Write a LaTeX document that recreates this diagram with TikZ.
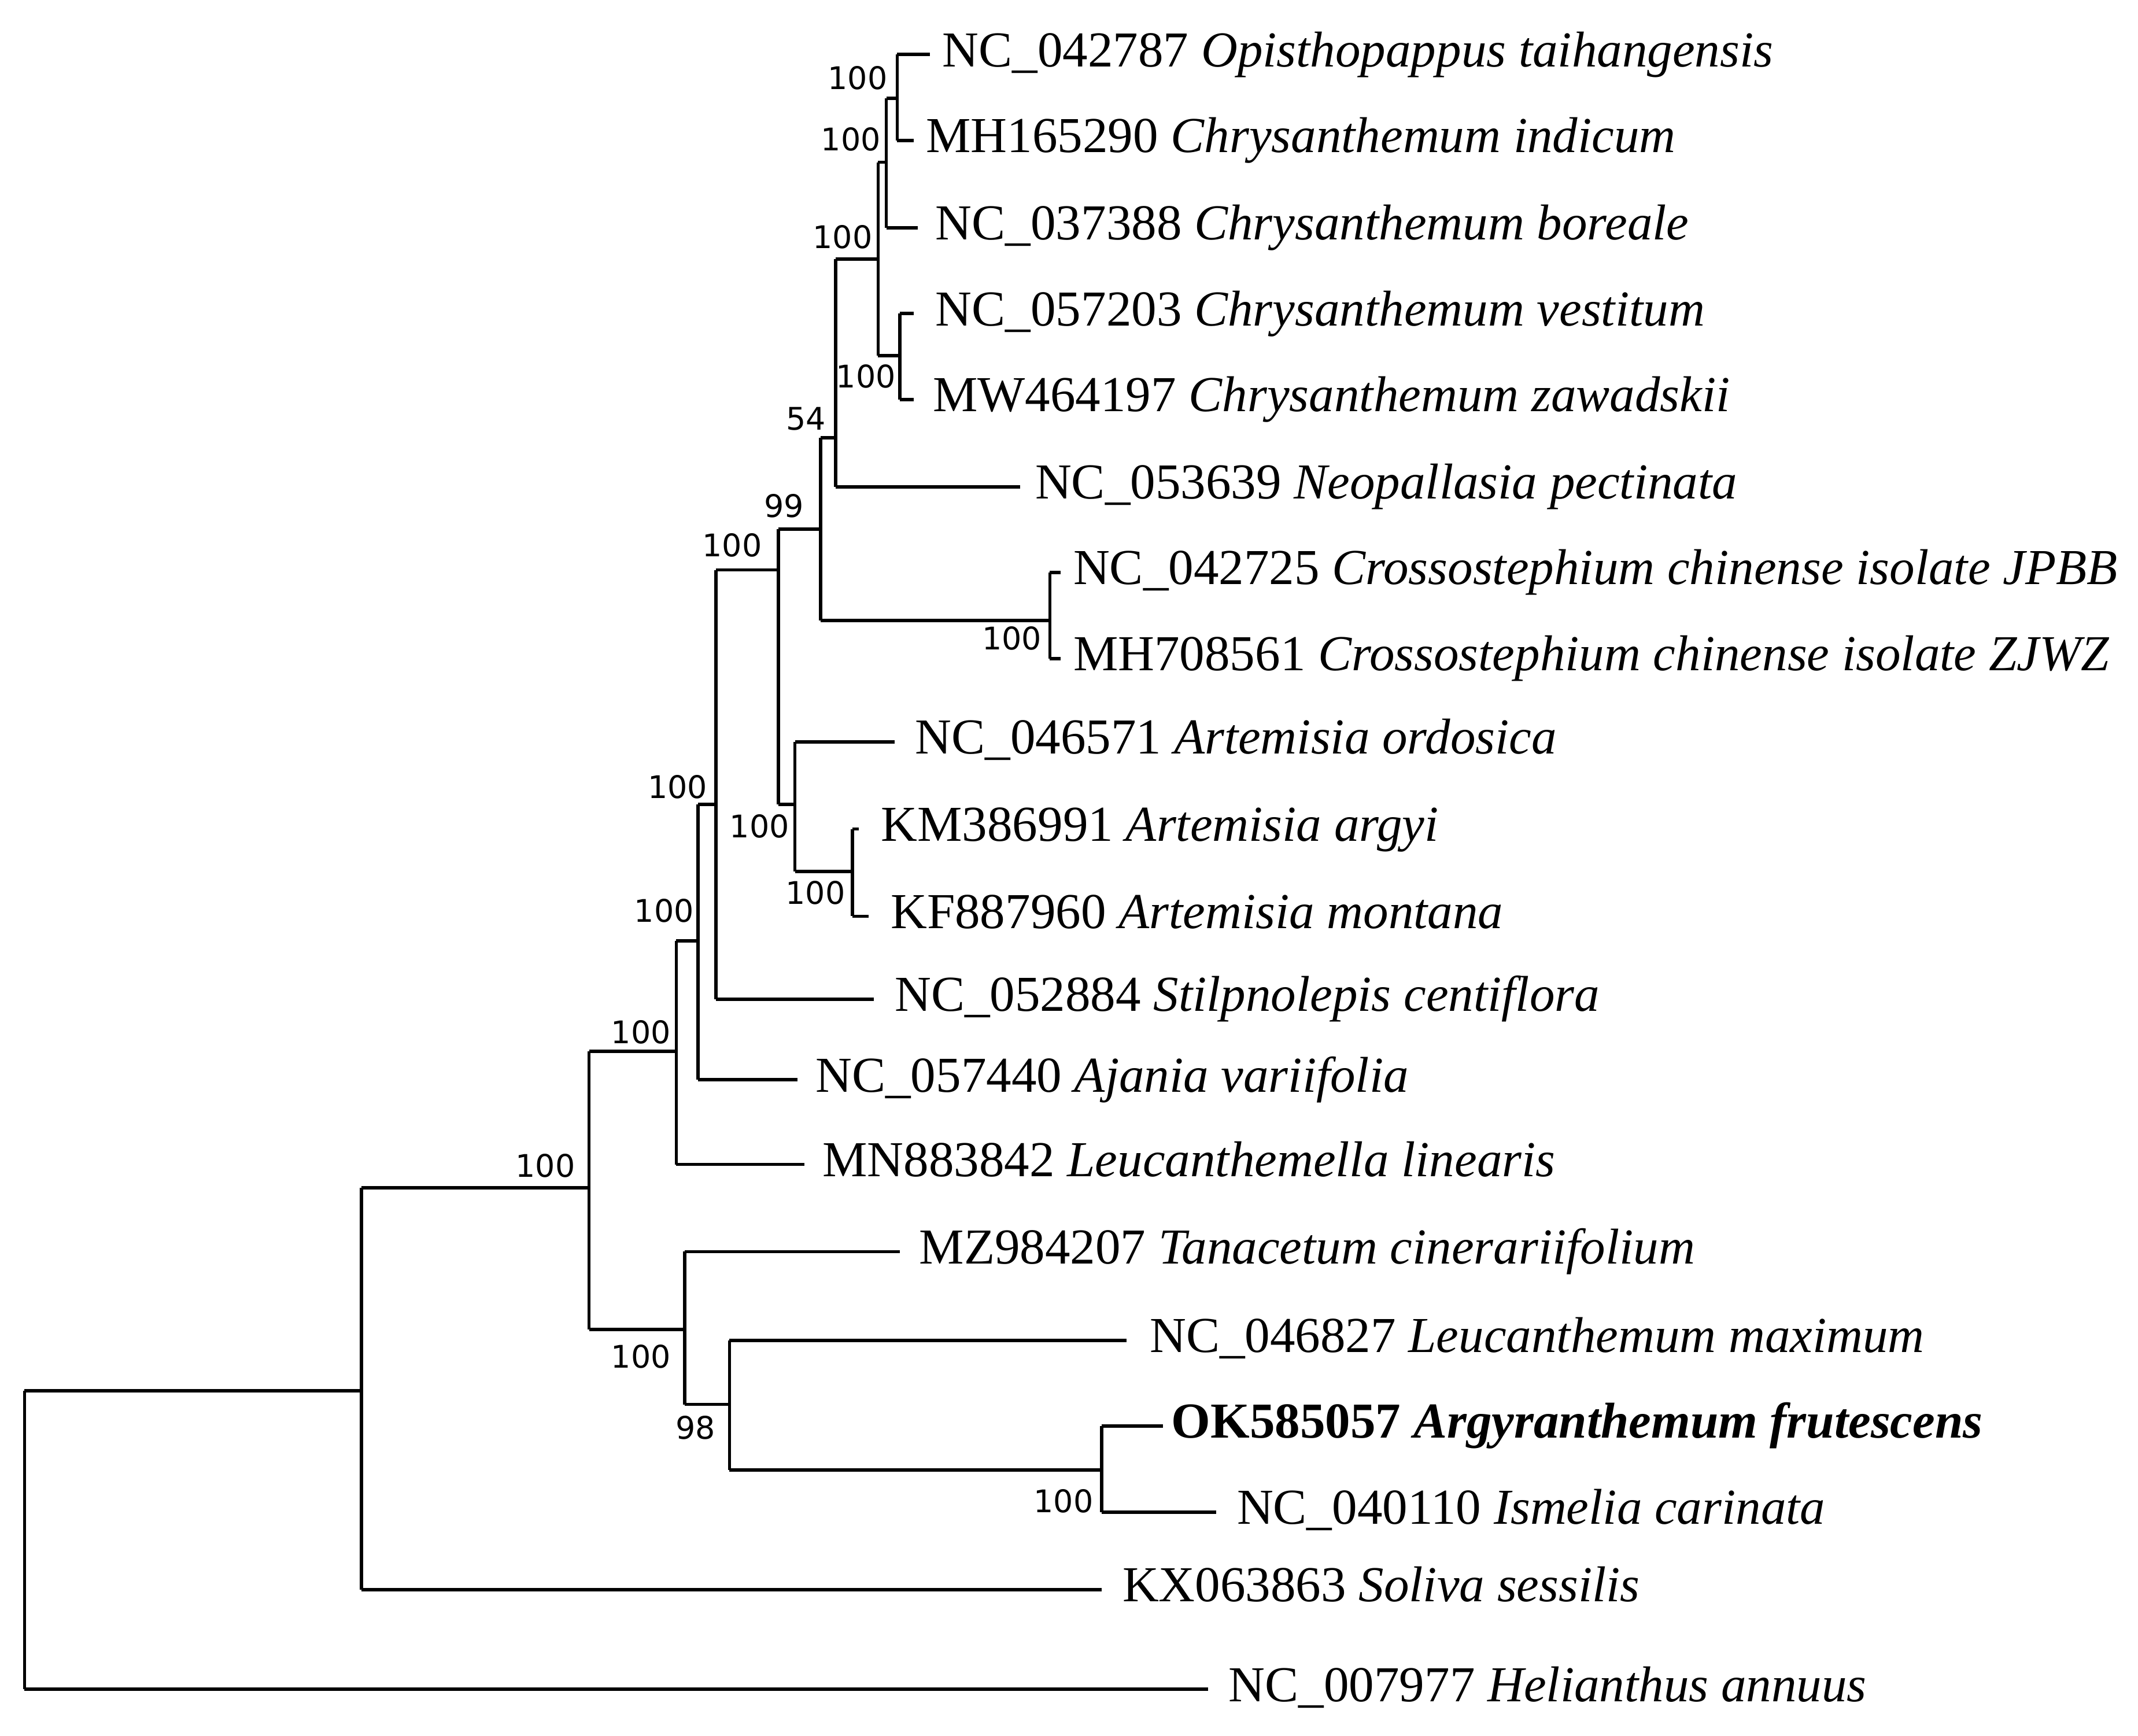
\documentclass[tikz,border=0pt]{standalone}
\usepackage{fontspec}
\setmainfont{Liberation Serif}
\newfontfamily\bsfont{DejaVu Sans}
\begin{document}
\begin{tikzpicture}[x=0.01cm,y=-0.01cm,line width=0.7pt,
  leaf/.style={anchor=west,inner sep=0pt,text height=0.5em,text depth=0pt,font=\fontsize{10.5}{12}\selectfont},
  bs/.style={inner sep=0pt,font=\bsfont\fontsize{6.5}{7}\selectfont}]
\useasboundingbox (0,0) rectangle (1568,1273);
% internal nodes (x, y of incoming branch)
\coordinate (r) at (18,1130);
\coordinate (a) at (265,1020);
\coordinate (b) at (432,871);
\coordinate (c) at (496,771);
\coordinate (d) at (512,690);
\coordinate (e) at (525,590);
\coordinate (f) at (571,418);
\coordinate (g) at (602,388);
\coordinate (h) at (613,321);
\coordinate (i) at (644,190);
\coordinate (j) at (650,119);
\coordinate (k) at (658,72);
\coordinate (l) at (660,261);
\coordinate (m) at (770,455);
\coordinate (n) at (583,590);
\coordinate (o) at (625,639);
\coordinate (p) at (502,975);
\coordinate (q) at (535,1030);
\coordinate (s) at (808,1078);
% leaves
\node[leaf] (L1) at (690,40) {NC\_042787 \textit{Opisthopappus taihangensis}};
\node[leaf] (L2) at (678,103) {MH165290 \textit{Chrysanthemum indicum}};
\node[leaf] (L3) at (685,167) {NC\_037388 \textit{Chrysanthemum boreale}};
\node[leaf] (L4) at (685,230) {NC\_057203 \textit{Chrysanthemum vestitum}};
\node[leaf] (L5) at (683,293) {MW464197 \textit{Chrysanthemum zawadskii}};
\node[leaf] (L6) at (758,357) {NC\_053639 \textit{Neopallasia pectinata}};
\node[leaf] (L7) at (786,420) {NC\_042725 \textit{Crossostephium chinense isolate JPBB}};
\node[leaf] (L8) at (786,483) {MH708561 \textit{Crossostephium chinense isolate ZJWZ}};
\node[leaf] (L9) at (670,544) {NC\_046571 \textit{Artemisia ordosica}};
\node[leaf] (L10) at (645,608) {KM386991 \textit{Artemisia argyi}};
\node[leaf] (L11) at (652,672) {KF887960 \textit{Artemisia montana}};
\node[leaf] (L12) at (655,733) {NC\_052884 \textit{Stilpnolepis centiflora}};
\node[leaf] (L13) at (597,792) {NC\_057440 \textit{Ajania variifolia}};
\node[leaf] (L14) at (602,854) {MN883842 \textit{Leucanthemella linearis}};
\node[leaf] (L15) at (673,918) {MZ984207 \textit{Tanacetum cinerariifolium}};
\node[leaf] (L16) at (842,983) {NC\_046827 \textit{Leucanthemum maximum}};
\node[leaf] (L17) at (858,1046) {\textbf{OK585057 \textit{Argyranthemum frutescens}}};
\node[leaf] (L18) at (906,1109) {NC\_040110 \textit{Ismelia carinata}};
\node[leaf] (L19) at (822,1166) {KX063863 \textit{Soliva sessilis}};
\node[leaf] (L20) at (900,1239) {NC\_007977 \textit{Helianthus annuus}};
% verticals
\draw (r|-a) -- (r|-L20);
\draw (a|-b) -- (a|-L19);
\draw (b|-c) -- (b|-p);
\draw (c|-d) -- (c|-L14);
\draw (d|-e) -- (d|-L13);
\draw (e|-f) -- (e|-L12);
\draw (f|-g) -- (f|-n);
\draw (g|-h) -- (g|-m);
\draw (h|-i) -- (h|-L6);
\draw (i|-j) -- (i|-l);
\draw (j|-k) -- (j|-L3);
\draw (k|-L1) -- (k|-L2);
\draw (l|-L4) -- (l|-L5);
\draw (m|-L7) -- (m|-L8);
\draw (n|-L9) -- (n|-o);
\draw (o|-L10) -- (o|-L11);
\draw (p|-L15) -- (p|-q);
\draw (q|-L16) -- (q|-s);
\draw (s|-L17) -- (s|-L18);
% internal horizontals
\draw (r|-a) -- (a);
\draw (a|-b) -- (b);
\draw (b|-c) -- (c);
\draw (b|-p) -- (p);
\draw (c|-d) -- (d);
\draw (d|-e) -- (e);
\draw (e|-f) -- (f);
\draw (f|-g) -- (g);
\draw (f|-n) -- (n);
\draw (g|-h) -- (h);
\draw (g|-m) -- (m);
\draw (h|-i) -- (i);
\draw (i|-j) -- (j);
\draw (j|-k) -- (k);
\draw (i|-l) -- (l);
\draw (n|-o) -- (o);
\draw (p|-q) -- (q);
\draw (q|-s) -- (s);
% leaf horizontals
\draw (k|-L1) -- ([xshift=-0.8mm]L1.west);
\draw (k|-L2) -- ([xshift=-0.8mm]L2.west);
\draw (j|-L3) -- ([xshift=-1.2mm]L3.west);
\draw (l|-L4) -- ([xshift=-1.5mm]L4.west);
\draw (l|-L5) -- ([xshift=-1.3mm]L5.west);
\draw (h|-L6) -- ([xshift=-1mm]L6.west);
\draw (m|-L7) -- ([xshift=-0.8mm]L7.west);
\draw (m|-L8) -- ([xshift=-0.8mm]L8.west);
\draw (n|-L9) -- ([xshift=-1.4mm]L9.west);
\draw (o|-L10) -- ([xshift=-1.5mm]L10.west);
\draw (o|-L11) -- ([xshift=-1.5mm]L11.west);
\draw (e|-L12) -- ([xshift=-1.4mm]L12.west);
\draw (d|-L13) -- ([xshift=-1.2mm]L13.west);
\draw (c|-L14) -- ([xshift=-1.2mm]L14.west);
\draw (p|-L15) -- ([xshift=-1.3mm]L15.west);
\draw (q|-L16) -- ([xshift=-1.6mm]L16.west);
\draw (s|-L17) -- ([xshift=-0.5mm]L17.west);
\draw (s|-L18) -- ([xshift=-1.4mm]L18.west);
\draw (a|-L19) -- ([xshift=-1.4mm]L19.west);
\draw (r|-L20) -- ([xshift=-1.4mm]L20.west);
% bootstrap
\node[bs] (B1) at (400,855) {100};
\node[bs] (B2) at (470,757) {100};
\node[bs] (B3) at (487,668) {100};
\node[bs] (B4) at (497,577) {100};
\node[bs] (B5) at (537,400) {100};
\node[bs] (B6) at (575,371) {99};
\node[bs] (B7) at (591,307) {54};
\node[bs] (B8) at (618,174) {100};
\node[bs] (B9) at (624,102) {100};
\node[bs] (B10) at (629,57) {100};
\node[bs] (B11) at (635,276) {100};
\node[bs] (B12) at (742,468) {100};
\node[bs] (B13) at (557,606) {100};
\node[bs] (B14) at (598,655) {100};
\node[bs] (B15) at (470,995) {100};
\node[bs] (B16) at (510,1047) {98};
\node[bs] (B17) at (780,1101) {100};
\end{tikzpicture}
\end{document}
